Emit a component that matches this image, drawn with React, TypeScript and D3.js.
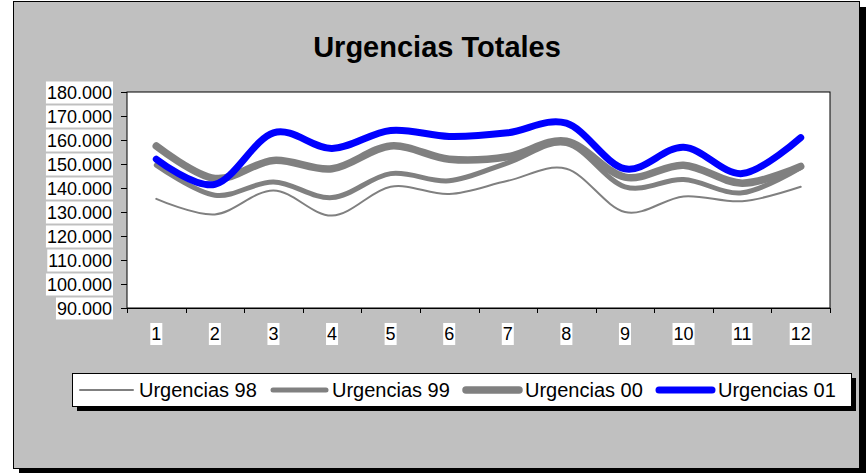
import React from "react";
import * as d3 from "d3";

const months = ["1", "2", "3", "4", "5", "6", "7", "8", "9", "10", "11", "12"];
const urg98 = [135500, 129000, 139000, 128500, 140500, 137500, 143000, 148000, 130000, 136500, 134500, 140500];
const urg99 = [149500, 137000, 142500, 136000, 146000, 143000, 150500, 158500, 140500, 143500, 138000, 148500];
const urg00 = [157500, 144000, 151500, 148000, 157500, 152000, 153000, 159500, 144500, 149500, 142000, 149000];
const urg01 = [152000, 141500, 163000, 156500, 164000, 161500, 163000, 167000, 148000, 157000, 146000, 161000];
const yTicks = [90000, 100000, 110000, 120000, 130000, 140000, 150000, 160000, 170000, 180000];
const seriesNames = ["Urgencias 98", "Urgencias 99", "Urgencias 00", "Urgencias 01"];

const FONT = "'Liberation Sans', Arial, sans-serif";

let ctx: CanvasRenderingContext2D | null = null;
function measure(text: string, size: number): number {
  if (!ctx) ctx = document.createElement("canvas").getContext("2d");
  if (!ctx) return text.length * size * 0.55;
  ctx.font = `${size}px 'Liberation Sans', Arial, sans-serif`;
  return ctx.measureText(text).width;
}

const fmt = (v: number) => d3.format(",")(v).replace(/,/g, ".");

export default function App() {
  const W = 868, H = 474;
  const plot = { x: 127, y: 92, w: 703, h: 216 };
  const x = d3.scaleBand<string>().domain(months).range([plot.x, plot.x + plot.w]);
  const y = d3.scaleLinear().domain([90000, 180000]).range([plot.y + plot.h, plot.y]);
  const line = d3
    .line<number>()
    .x((_, i) => (x(months[i]) as number) + x.bandwidth() / 2)
    .y((d) => y(d))
    .curve(d3.curveCatmullRom.alpha(0));

  const series = [
    { name: seriesNames[0], data: urg98, color: "#808080", width: 2 },
    { name: seriesNames[1], data: urg99, color: "#808080", width: 5 },
    { name: seriesNames[2], data: urg00, color: "#808080", width: 7.5 },
    { name: seriesNames[3], data: urg01, color: "#0000FF", width: 7 },
  ];

  const labelSize = 18;
  const legendSize = 20;

  return (
    <svg width={W} height={H} style={{ position: "absolute", left: 0, top: 0 }} fontFamily={FONT}>
      {/* outer frame with shadow */}
      <rect x={19} y={7} width={847} height={466} fill="#000" />
      <rect x={13.5} y={1.5} width={846} height={467} fill="#C0C0C0" stroke="#000" strokeWidth={1} />

      <text x={437} y={57} textAnchor="middle" fontSize={29} fontWeight="bold" fill="#000">
        Urgencias Totales
      </text>

      {/* plot area */}
      <rect x={plot.x} y={plot.y} width={plot.w} height={plot.h} fill="#fff" stroke="#000" strokeWidth={1} />

      {/* y axis ticks and labels */}
      {yTicks.map((t) => {
        const yy = Math.round(y(t)) + 0.5;
        const label = fmt(t);
        const tw = measure(label, labelSize);
        return (
          <g key={t}>
            <line x1={121} x2={plot.x} y1={yy} y2={yy} stroke="#000" strokeWidth={1} />
            <rect x={112 - tw - 1} y={yy - 11} width={tw + 2} height={22} fill="#fff" />
            <text x={112} y={yy + 6.5} textAnchor="end" fontSize={labelSize} fill="#000">
              {label}
            </text>
          </g>
        );
      })}

      {/* x axis ticks and labels */}
      {months.map((m, i) => {
        const bx = x(m) as number;
        const cx = bx + x.bandwidth() / 2;
        const tw = measure(m, labelSize);
        return (
          <g key={m}>
            <line x1={Math.round(bx) + 0.5} x2={Math.round(bx) + 0.5} y1={plot.y + plot.h} y2={plot.y + plot.h + 5} stroke="#000" />
            {i === months.length - 1 && (
              <line
                x1={plot.x + plot.w + 0.5}
                x2={plot.x + plot.w + 0.5}
                y1={plot.y + plot.h}
                y2={plot.y + plot.h + 5}
                stroke="#000"
              />
            )}
            <rect x={cx - tw / 2 - 1} y={323} width={tw + 2} height={22} fill="#fff" />
            <text x={cx} y={340} textAnchor="middle" fontSize={labelSize} fill="#000">
              {m}
            </text>
          </g>
        );
      })}
      <line x1={plot.x} x2={plot.x + plot.w} y1={plot.y + plot.h + 0.5} y2={plot.y + plot.h + 0.5} stroke="#000" />

      {/* series lines */}
      {series.map((s) => (
        <path
          key={s.name}
          d={line(s.data) || ""}
          fill="none"
          stroke={s.color}
          strokeWidth={s.width}
          strokeLinecap="round"
          strokeLinejoin="round"
        />
      ))}

      {/* legend */}
      <rect x={77} y={378} width={779} height={33} fill="#000" />
      <rect x={72.5} y={373.5} width={779} height={33} fill="#fff" stroke="#000" strokeWidth={1} />
      {series.map((s, i) => {
        const x0 = 78 + i * 193;
        return (
          <g key={s.name}>
            <line x1={x0 + 2} x2={x0 + 55} y1={390} y2={390} stroke={s.color} strokeWidth={s.width} strokeLinecap="round" />
            <text x={x0 + 61} y={397} fontSize={legendSize} fill="#000">
              {s.name}
            </text>
          </g>
        );
      })}
    </svg>
  );
}
